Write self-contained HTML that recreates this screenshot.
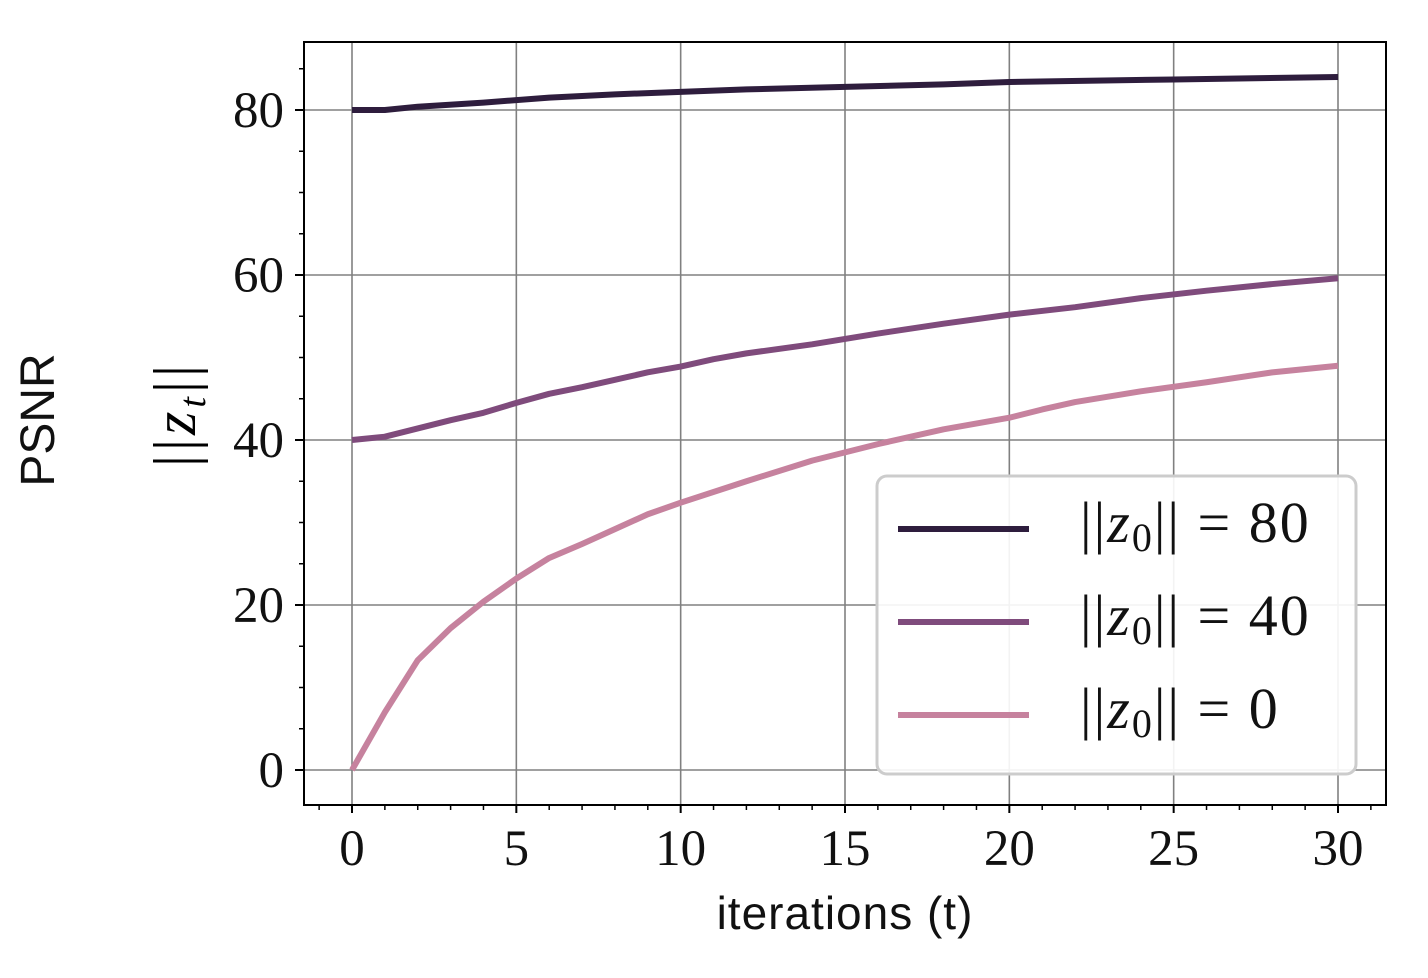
<!DOCTYPE html>
<html><head><meta charset="utf-8"><style>
html,body{margin:0;padding:0;background:#fff;}
svg{display:block;}
.tk{font-family:"Liberation Serif",serif;font-size:51px;fill:#111;}
.sans{font-family:"Liberation Sans",sans-serif;fill:#111;}
.lg{font-family:"Liberation Serif",serif;font-size:58px;fill:#111;letter-spacing:2px;}
</style></head><body>
<svg id="chart" width="1428" height="978" xmlns="http://www.w3.org/2000/svg">
<g id="grid"></g>
<g id="axes"></g>
<g id="series"></g>
<text class="sans" x="845" y="929" font-size="46" letter-spacing="1" text-anchor="middle">iterations (t)</text>
<text class="sans" font-size="48" text-anchor="middle" transform="translate(54,420) rotate(-90)">PSNR</text>
<text font-family="Liberation Serif,serif" font-size="60" letter-spacing="4" text-anchor="middle" transform="translate(195,414) rotate(-90)">||<tspan font-style="italic">z</tspan><tspan font-style="italic" font-size="38" dy="10">t</tspan><tspan dy="-10">||</tspan></text>
<g>
<rect x="877" y="476" width="479" height="298" rx="10" fill="#fff" fill-opacity="0.9" stroke="#ccc" stroke-width="3"/>
<line x1="898" y1="529" x2="1029" y2="529" stroke="#2e1d3d" stroke-width="6"/>
<text class="lg" x="1080" y="542">||<tspan font-style="italic">z</tspan><tspan font-size="40" dy="9">0</tspan><tspan dy="-9">|| = 80</tspan></text>
<line x1="898" y1="622" x2="1029" y2="622" stroke="#7f4b7c" stroke-width="6"/>
<text class="lg" x="1080" y="635">||<tspan font-style="italic">z</tspan><tspan font-size="40" dy="9">0</tspan><tspan dy="-9">|| = 40</tspan></text>
<line x1="898" y1="715" x2="1029" y2="715" stroke="#c6829e" stroke-width="6"/>
<text class="lg" x="1080" y="728">||<tspan font-style="italic">z</tspan><tspan font-size="40" dy="9">0</tspan><tspan dy="-9">|| = 0</tspan></text>
</g>
</svg>
<script>
const xTicks=[0,5,10,15,20,25,30];
const yTicks=[0,20,40,60,80];
const t80=[0,1,2,4,6,8,10,12,15,18,20,25,30];
const v80=[80,80,80.4,80.9,81.5,81.9,82.2,82.5,82.8,83.1,83.4,83.7,84];
const t40=[0,1,2,3,4,5,6,7,8,9,10,11,12,14,16,18,20,22,24,26,28,30];
const v40=[40,40.4,41.4,42.4,43.3,44.5,45.6,46.4,47.3,48.2,48.9,49.8,50.5,51.6,52.9,54.1,55.2,56.1,57.2,58.1,58.9,59.6];
const t0=[0,1,2,3,4,5,6,7,8,9,10,12,14,16,18,20,21,22,24,26,28,30];
const v0=[0,7,13.3,17.2,20.4,23.2,25.7,27.4,29.2,31,32.4,35,37.5,39.5,41.3,42.7,43.7,44.6,45.9,47,48.2,49];
const NS="http://www.w3.org/2000/svg";
const L=304,R=1386,T=42,B=805;
const X=v=>352+(1338-352)*v/30;
const Y=v=>770-(770-110)*v/80;
function mk(tag,attrs,parent){const e=document.createElementNS(NS,tag);for(const k in attrs)e.setAttribute(k,attrs[k]);parent.appendChild(e);return e;}
const grid=document.getElementById('grid'),axes=document.getElementById('axes'),series=document.getElementById('series');
xTicks.forEach(v=>{const l=mk('line',{x1:X(v),x2:X(v),y1:T,y2:B,stroke:'#808080','stroke-width':1.6},grid);


const tk=mk('line',{x1:X(v),x2:X(v),y1:B,y2:B+8,stroke:'#000','stroke-width':2},axes);


const tx=mk('text',{x:X(v),y:865,'text-anchor':'middle',class:'tk'},axes);tx.textContent=v;

});
for(let v=-1;v<=31;v++){if(v%5===0)continue;const x=X(v);if(x<L||x>R)continue;const m=mk('line',{x1:x,x2:x,y1:B,y2:B+5,stroke:'#000','stroke-width':1.5},axes);

}
yTicks.forEach(v=>{const l=mk('line',{x1:L,x2:R,y1:Y(v),y2:Y(v),stroke:'#808080','stroke-width':1.6},grid);


const tk=mk('line',{x1:L-9,x2:L,y1:Y(v),y2:Y(v),stroke:'#000','stroke-width':2},axes);


const tx=mk('text',{x:284,y:Y(v)+17,'text-anchor':'end',class:'tk'},axes);tx.textContent=v;

});
for(let v=5;v<=85;v+=5){if(v%20===0)continue;const m=mk('line',{x1:L-5,x2:L,y1:Y(v),y2:Y(v),stroke:'#000','stroke-width':1.5},axes);

}
const fr=mk('rect',{x:L,y:T,width:R-L,height:B-T,fill:'none',stroke:'#000','stroke-width':2},axes);


[[t0,v0,'#c6829e','series-z0-0'],[t40,v40,'#7f4b7c','series-z0-40'],[t80,v80,'#2e1d3d','series-z0-80']].forEach(([ts,vs,c,n])=>{
const p=mk('polyline',{points:ts.map((t,i)=>X(t)+','+Y(vs[i])).join(' '),fill:'none',stroke:c,'stroke-width':6,'stroke-linejoin':'round'},series);

});
</script>
</body></html>
